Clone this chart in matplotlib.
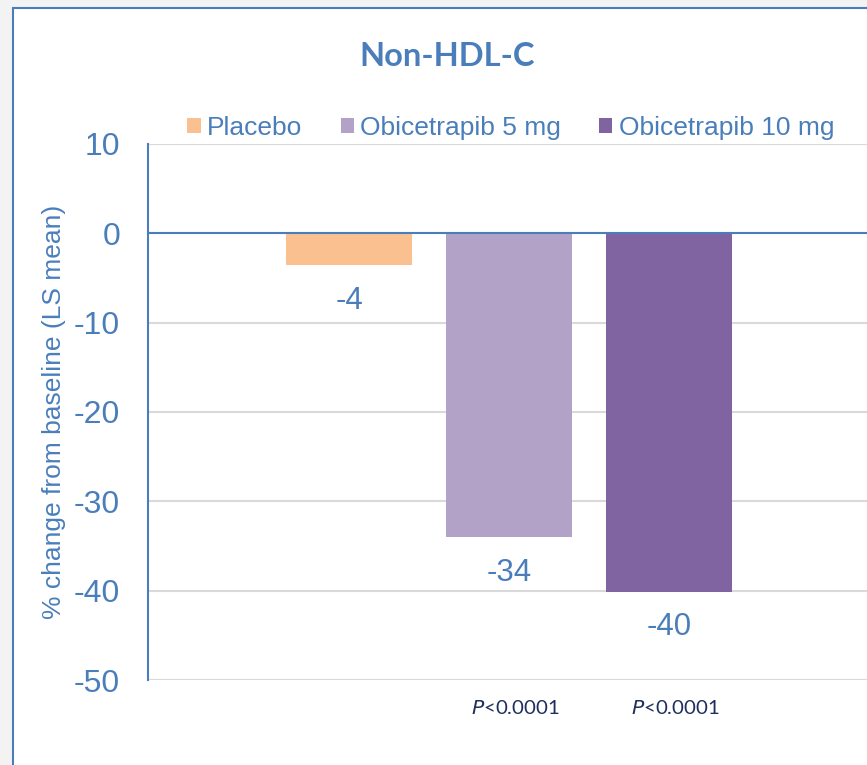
import matplotlib.pyplot as plt
from matplotlib.patches import Rectangle

# LS-mean % change from baseline, non-HDL-C
groups = ['Placebo', 'Obicetrapib 5 mg', 'Obicetrapib 10 mg']
values = [-3.6, -34.0, -40.1]
colors = ['#FAC08F', '#B3A2C7', '#8064A2']
pvals = [None, 'P<0.0001', 'P<0.0001']
yticks = [10, 0, -10, -20, -30, -40, -50]

blue = '#4A7EBB'
navy = '#1F2F5C'

fig = plt.figure(figsize=(8.67, 7.65), dpi=100)
fig.patch.set_facecolor('#F3F3F3')

# white chart area with thin blue frame
W, H = 867, 765
frame = Rectangle((13 / W, -0.05), 1.0, 1 - 8 / H + 0.05, transform=fig.transFigure,
                  facecolor='white', edgecolor=blue, lw=1.5, zorder=-5)
fig.patches.append(frame)

ax = fig.add_axes([148 / W, 1 - 680 / H, (870 - 148) / W, (680 - 144) / H])
ax.set_facecolor('none')
ax.set_zorder(1)

x = list(range(len(groups)))
bars = ax.bar(x, values, width=0.7875, color=colors, zorder=2)
for b, c in zip(bars, groups):
    b.set_label(c)

for xi, v in zip(x, values):
    ax.text(xi, v - 4.0, f'{v:.0f}', ha='center', va='center', fontsize=22.5,
            color=blue, family='Liberation Sans')

for xi, p in zip(x, pvals):
    if p:
        ax.text(xi + 0.04, -53.1, r'$\mathit{P}$' + p[1:], ha='center', va='center',
                fontsize=14.7, color=navy, family='Lato')

ax.set_xlim(-1.259, 3.256)
ax.set_ylim(-50, 10)
ax.set_yticks(yticks)
ax.set_yticklabels([str(t) for t in yticks], fontsize=23, color=blue,
                   family='Liberation Sans')
ax.tick_params(axis='y', length=0, pad=20)
ax.set_xticks([])
ax.grid(axis='y', color='#D9D9D9', lw=1.5, zorder=0)
ax.axhline(0, color=blue, lw=1.5, zorder=3)
for s in ['top', 'right', 'bottom']:
    ax.spines[s].set_visible(False)
ax.spines['left'].set_color(blue)
ax.spines['left'].set_linewidth(1.5)

ax.set_ylabel('% change from baseline (LS mean)', fontsize=19, color=blue,
              family='Liberation Sans')
ax.yaxis.set_label_coords(-0.113, 0.5)

fig.text(447 / W, 1 - 57 / H, 'Non-HDL-C', ha='center', va='center', fontsize=23.5,
         fontweight='bold', color=blue, family='Lato')

leg = fig.legend(handles=list(bars), labels=groups, loc='center',
                 bbox_to_anchor=(511 / W, 1 - 128 / H), ncol=3, frameon=False,
                 handlelength=0.5, handleheight=0.5, handletextpad=0.25,
                 columnspacing=1.44, prop={'family': 'Liberation Sans', 'size': 19})
for t in leg.get_texts():
    t.set_color(blue)

fig.savefig('out.png', dpi=100, facecolor=fig.get_facecolor())
